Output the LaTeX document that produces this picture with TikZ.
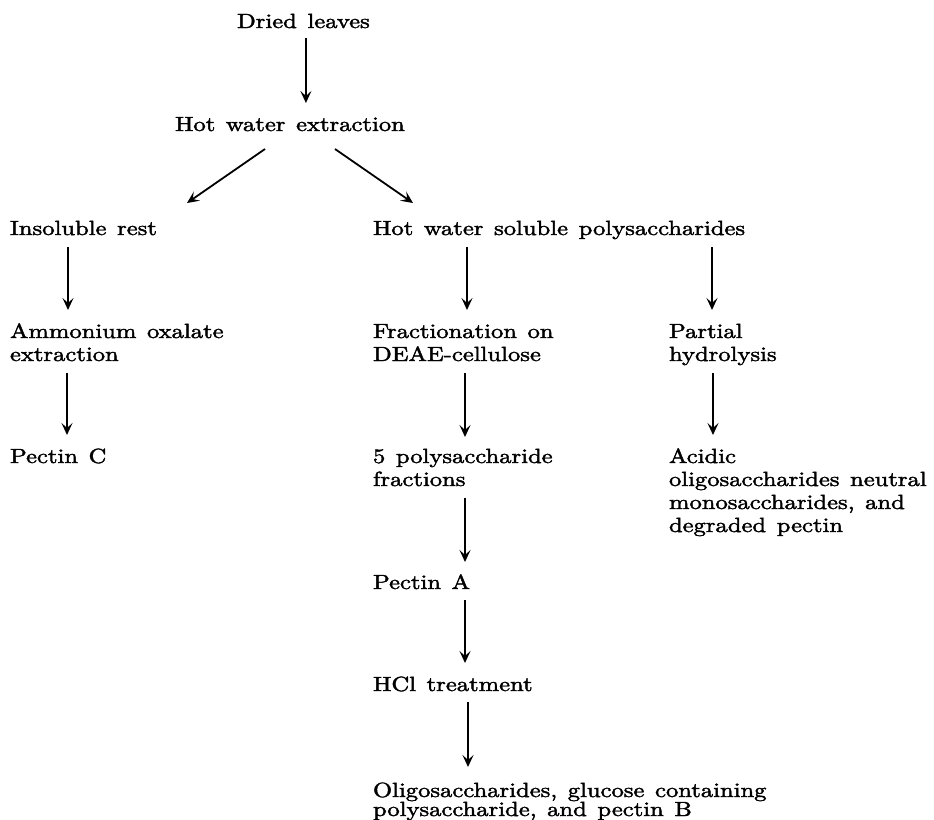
\documentclass[tikz,border=0pt]{standalone}
\usepackage{fontspec}
\setmainfont{lmroman10-regular.otf}[FakeStretch=1.2, WordSpace=1.3, FakeBold=2]
\usetikzlibrary{arrows.meta,calc}
\newcommand\lbfont{\fontsize{20.5pt}{23pt}\selectfont}
\newcommand\twolines[2]{\vtop{\hbox{#1}\hbox{#2}}}
\tikzset{
  lbl/.style={inner sep=0pt, outer sep=0pt, anchor=base west, font=\lbfont},
  arr/.style={-{Stealth[length=12pt,width=11pt,inset=5pt]}, line width=1.8pt}
}
\begin{document}
\begin{tikzpicture}[x=1pt,y=-1pt]
\useasboundingbox (0,0) rectangle (934,819);
% texts
\node[lbl] (dl)   at (237,28)  {Dried leaves};
\node[lbl] (hwe)  at (175,131) {Hot water extraction};
\node[lbl] (ins)  at (10,235)  {Insoluble rest};
\node[lbl] (hws)  at (373,235) {Hot water soluble polysaccharides};
\node[lbl] (amm)  at (10,338)  {\twolines{Ammonium oxalate}{extraction}};
\node[lbl] (frac) at (373,338) {\twolines{Fractionation on}{DEAE-cellulose}};
\node[lbl] (part) at (669,338) {\twolines{Partial}{hydrolysis}};
\node[lbl] (pc)   at (10,463)  {Pectin C};
\node[lbl] (fr5)  at (373,463) {\twolines{5 polysaccharide}{fractions}};
\node[lbl] (acid) at (669,463) {\vtop{\hbox{Acidic}\hbox{oligosaccharides neutral}\hbox{monosaccharides, and}\hbox{degraded pectin}}};
\node[lbl] (pa)   at (373,589) {Pectin A};
\node[lbl] (hcl)  at (373,691) {HCl treatment};
\node[lbl] (olig) at (373,797) {\vtop{\baselineskip=19pt\hbox{Oligosaccharides, glucose containing}\hbox{polysaccharide, and pectin B}}};
% connectors
\draw[arr] ($(dl.base)+(2.5,10)$) -- ($(dl.base |- hwe.base)+(2.5,-28)$);
\draw[arr] ($(hwe.base west)+(90,18)$) -- ($(ins.base west)+(177,-32)$);
\draw[arr] ($(hwe.base west)+(160,18)$) -- ($(hws.base west)+(40,-32)$);
\draw[arr] ($(ins.base west)+(58,12)$) -- ($(amm.base west)+(58,-28)$);
\draw[arr] ($(hws.base west)+(94,12)$) -- ($(frac.base west)+(94,-28)$);
\draw[arr] ($(hws.base west)+(339,12)$) -- ($(part.base west)+(43,-28)$);
\draw[arr] ($(amm.base west)+(57,35)$) -- ($(pc.base west)+(57,-28)$);
\draw[arr] ($(frac.base west)+(92,35)$) -- ($(fr5.base west)+(92,-26)$);
\draw[arr] ($(part.base west)+(44,35)$) -- ($(acid.base west)+(44,-28)$);
\draw[arr] ($(fr5.base west)+(92,35)$) -- ($(pa.base west)+(92,-27)$);
\draw[arr] ($(pa.base west)+(92,11)$) -- ($(hcl.base west)+(92,-28)$);
\draw[arr] ($(hcl.base west)+(95,11)$) -- ($(olig.base west)+(95,-30)$);
\end{tikzpicture}
\end{document}
